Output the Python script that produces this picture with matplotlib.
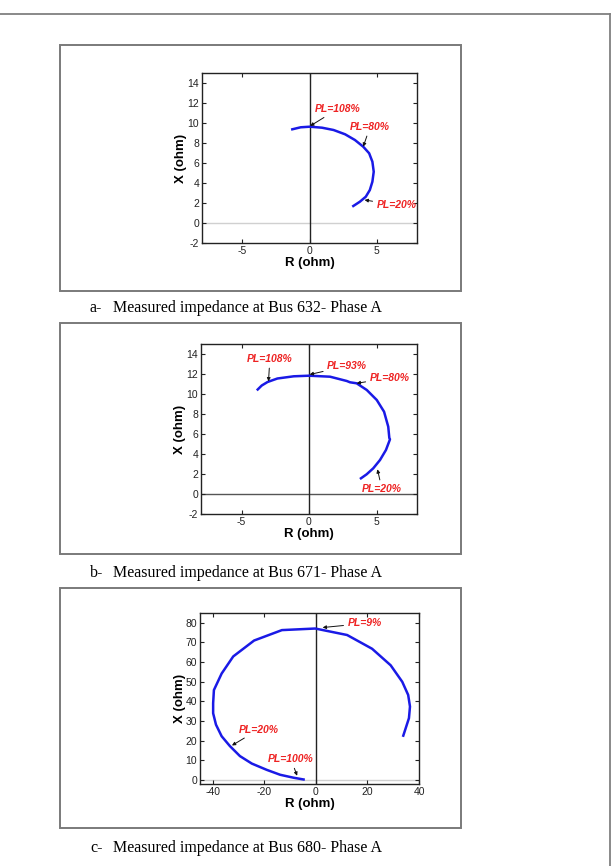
import matplotlib
matplotlib.use("Agg")
import matplotlib.pyplot as plt
from matplotlib.patches import Rectangle
from matplotlib.lines import Line2D

plt.rcParams["axes.unicode_minus"] = False

# ---------------- data ----------------
# Panel a: Bus 632
a_R = [3.26, 3.75, 4.19, 4.49, 4.68, 4.78, 4.68, 4.44, 4.00, 3.38, 2.65, 1.79, 0.93, 0.02, -0.66, -1.28]
a_X = [1.70, 2.13, 2.63, 3.30, 4.13, 5.13, 6.13, 6.97, 7.63, 8.30, 8.87, 9.30, 9.53, 9.63, 9.57, 9.37]
a_labels = ["PL=108%", "PL=80%", "PL=20%"]
a_pts = [(0.05, 9.7), (4.0, 7.63), (4.1, 2.3)]
a_txt = [(2.1, 11.4), (4.5, 9.6), (5.0, 1.8)]

# Panel b: Bus 671
b_R = [3.85, 4.27, 4.76, 5.26, 5.70, 6.00, 5.95, 5.87, 5.56, 5.02, 4.28, 3.53, 3.04, 2.80, 1.56, 0.00, -1.13, -2.34, -3.07, -3.50, -3.80]
b_X = [1.57, 1.97, 2.57, 3.40, 4.40, 5.47, 5.60, 6.73, 8.23, 9.40, 10.40, 11.07, 11.17, 11.30, 11.73, 11.83, 11.77, 11.55, 11.20, 10.85, 10.45]
b_labels = ["PL=108%", "PL=93%", "PL=80%", "PL=20%"]
b_pts = [(-3.0, 11.26), (0.05, 11.95), (3.53, 11.07), (5.07, 2.47)]
b_txt = [(-2.9, 13.5), (1.35, 12.8), (4.5, 11.6), (5.4, 0.5)]

# Panel c: Bus 680
c_R = [33.9, 36.1, 36.5, 35.8, 33.5, 29.0, 21.8, 12.1, -0.26, -13.2, -24.0, -27.5, -32.1, -36.6, -39.6, -39.9, -39.9, -38.8, -36.6, -33.4, -29.5, -24.9, -19.1, -13.9, -8.7, -4.8]
c_X = [22.6, 31.5, 37.4, 43.3, 50.0, 58.4, 66.8, 73.8, 77.1, 76.3, 71.0, 67.5, 62.9, 54.2, 45.8, 39.1, 34.0, 28.2, 22.3, 17.3, 12.2, 8.4, 5.2, 2.7, 1.2, 0.3]
c_labels = ["PL=9%", "PL=20%", "PL=100%"]
c_pts = [(2.6, 77.6), (-32.6, 17.6), (-7.3, 2.2)]
c_txt = [(12.3, 79.7), (-22.3, 25.7), (-9.7, 10.6)]

captions = ["Measured impedance at Bus 632- Phase A",
            "Measured impedance at Bus 671- Phase A",
            "Measured impedance at Bus 680- Phase A"]
caption_tags = ["a-", "b-", "c-"]

# ---------------- figure ----------------
W, H = 612, 866
fig = plt.figure(figsize=(W / 100, H / 100), dpi=100)

def fx(px):
    return px / W

def fy(py):
    return 1 - py / H

# outer border
fig.add_artist(Line2D([0, fx(610)], [fy(14), fy(14)], transform=fig.transFigure, color="#808080", lw=1.3))
fig.add_artist(Line2D([fx(610), fx(610)], [fy(14), 0], transform=fig.transFigure, color="#808080", lw=1.3))

boxes = [(60, 45, 461, 291), (60, 323, 461, 554), (60, 588, 461, 828)]
for (x0, y0, x1, y1) in boxes:
    fig.add_artist(Rectangle((fx(x0), fy(y1)), fx(x1) - fx(x0), fy(y0) - fy(y1),
                             transform=fig.transFigure, fill=False, edgecolor="#7a7a7a", lw=1.4))

axes_px = [(202, 73, 417, 243), (201, 344, 417, 514), (200, 613, 419, 784)]
cap_y = [308, 573, 848]

sans = ["Liberation Sans", "DejaVu Sans"]
serif = ["Liberation Serif", "DejaVu Serif"]

panels = [
    (a_R, a_X, a_labels, a_pts, a_txt, (-8, 8), (-2, 15), [-5, 0, 5], list(range(-2, 15, 2)), "#d0d0d0"),
    (b_R, b_X, b_labels, b_pts, b_txt, (-8, 8), (-2, 15), [-5, 0, 5], list(range(-2, 15, 2)), "#555555"),
    (c_R, c_X, c_labels, c_pts, c_txt, (-45, 40), (-2, 85), [-40, -20, 0, 20, 40], list(range(0, 81, 10)), "#d0d0d0"),
]

ha_map = [["center", "center", "left"],
          ["center", "left", "left", "center"],
          ["left", "center", "center"]]

for i, (R, X, labs, pts, txts, xl, yl, xt, yt, zc) in enumerate(panels):
    x0, y0, x1, y1 = axes_px[i]
    ax = fig.add_axes([fx(x0), fy(y1), fx(x1) - fx(x0), fy(y0) - fy(y1)])
    ax.set_xlim(*xl)
    ax.set_ylim(*yl)
    ax.axhline(0, color=zc, lw=1.0, zorder=1)
    ax.axvline(0, color="#222222", lw=1.0, zorder=1)
    ax.plot(R, X, color="#1a1ae6", lw=1.8, zorder=3)
    ax.set_xticks(xt)
    ax.set_yticks(yt)
    ax.tick_params(direction="in", top=True, right=True, length=3, width=0.8,
                   labelsize=7.5, colors="#222222", pad=2)
    for lab in ax.get_xticklabels() + ax.get_yticklabels():
        lab.set_fontfamily(sans)
    for s in ax.spines.values():
        s.set_color("#222222")
        s.set_linewidth(1.0)
    ax.set_xlabel("R (ohm)", fontsize=9.5, fontweight="bold", family=sans, labelpad=1)
    ax.set_ylabel("X (ohm)", fontsize=9.5, fontweight="bold", family=sans, labelpad=0)
    for j, (lab, p, t) in enumerate(zip(labs, pts, txts)):
        ax.annotate(lab, xy=p, xytext=t, ha=ha_map[i][j], va="center",
                    fontsize=7.5, fontweight="bold", fontstyle="italic", color="#ee2222",
                    family=sans,
                    arrowprops=dict(arrowstyle="-|>", color="#111111", lw=0.7,
                                    mutation_scale=5, shrinkA=1, shrinkB=0),
                    zorder=4)

    fig.text(fx(90), fy(cap_y[i]), caption_tags[i], fontsize=11.5, family=serif, va="center", ha="left")
    fig.text(fx(113), fy(cap_y[i]), captions[i], fontsize=11.5, family=serif, va="center", ha="left")

fig.savefig("out.png", dpi=100, facecolor="white")
